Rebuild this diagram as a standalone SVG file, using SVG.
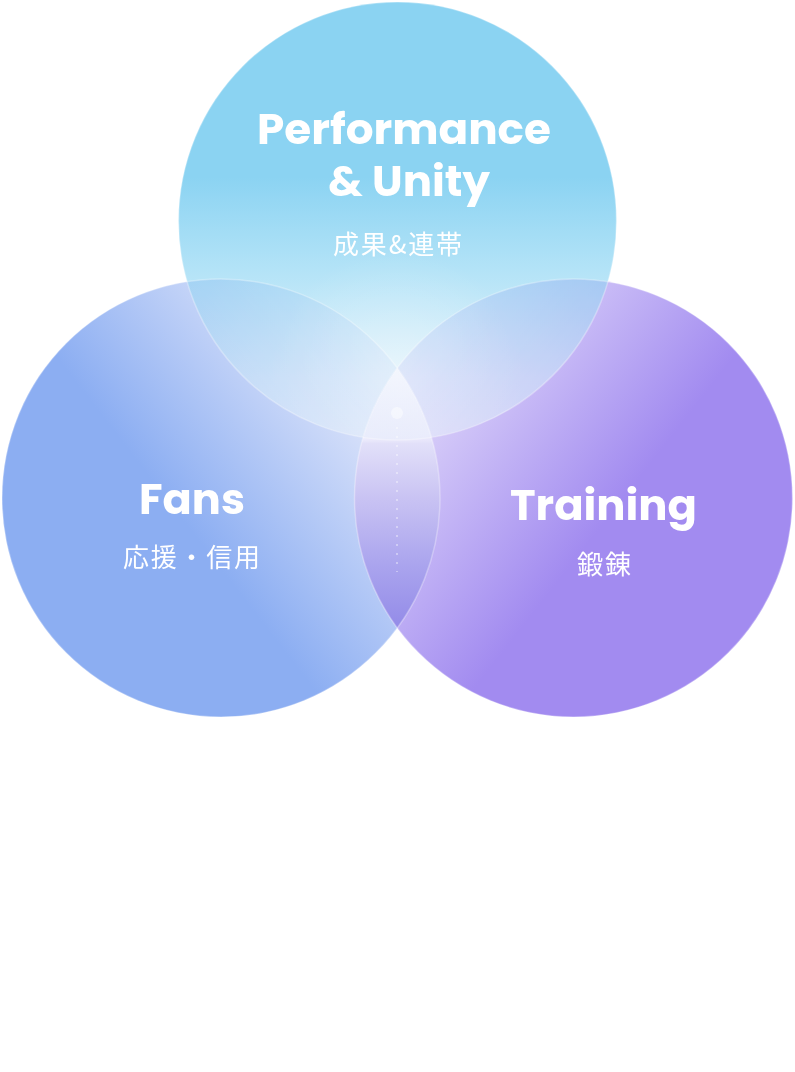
<svg xmlns="http://www.w3.org/2000/svg" width="795" height="1072" viewBox="0 0 795 1072">
  <defs>
    <linearGradient id="gLeft" gradientUnits="userSpaceOnUse" x1="48" y1="632" x2="394" y2="364">
      <stop offset="0" stop-color="#8CAEF2"/>
      <stop offset="0.40" stop-color="#8CAEF2"/>
      <stop offset="1" stop-color="#EEF0FC"/>
    </linearGradient>
    <linearGradient id="gRight" gradientUnits="userSpaceOnUse" x1="746" y1="633" x2="401" y2="363">
      <stop offset="0" stop-color="#A28BF0"/>
      <stop offset="0.41" stop-color="#A28BF0"/>
      <stop offset="1" stop-color="#E6E0FB"/>
    </linearGradient>
    <linearGradient id="gTop" gradientUnits="userSpaceOnUse" x1="0" y1="2" x2="0" y2="440">
      <stop offset="0" stop-color="#8BD3F2"/>
      <stop offset="0.40" stop-color="#8BD3F2"/>
      <stop offset="0.61" stop-color="#B3E3F7"/>
      <stop offset="0.75" stop-color="#CDEBF9"/>
      <stop offset="0.86" stop-color="#E0F1FB"/>
      <stop offset="1" stop-color="#F0F7FD"/>
    </linearGradient>
    <radialGradient id="gGlow" gradientUnits="userSpaceOnUse" cx="397" cy="380" r="130">
      <stop offset="0" stop-color="#FFFFFF" stop-opacity="0.35"/>
      <stop offset="1" stop-color="#FFFFFF" stop-opacity="0"/>
    </radialGradient>
    <linearGradient id="gLens" gradientUnits="userSpaceOnUse" x1="0" y1="368" x2="0" y2="628">
      <stop offset="0" stop-color="#FFFFFF" stop-opacity="0.7"/>
      <stop offset="0.27" stop-color="#F2F4FD" stop-opacity="0.7"/>
      <stop offset="0.29" stop-color="#E2E0F9"/>
      <stop offset="0.5" stop-color="#C9C3F3"/>
      <stop offset="0.75" stop-color="#ABA5EE"/>
      <stop offset="1" stop-color="#938BE8"/>
    </linearGradient>
    <clipPath id="clipTop">
      <circle cx="397.5" cy="221" r="219"/>
    </clipPath>
    <style>
      .edge { fill: none; stroke: #FFFFFF; stroke-opacity: 0.3; stroke-width: 1.5; }
      .mult { mix-blend-mode: multiply; opacity: 0.45; }
      .title { font-family: Poppins, Inter, "Liberation Sans", sans-serif; font-weight: 700; font-size: 42px; fill: #FFFFFF; }
      .sub { font-family: "Noto Sans CJK JP", "Noto Sans", sans-serif; font-weight: 400; font-size: 26px; fill: #FFFFFF; }
    </style>
  </defs>
  <rect width="795" height="1072" fill="#FFFFFF"/>

  <g id="node-fans">
    <circle cx="221" cy="498" r="219" fill="url(#gLeft)"/>
  </g>
  <g id="node-training">
    <circle cx="573.5" cy="498" r="219" fill="url(#gRight)"/>
  </g>
  <g id="node-performance">
    <circle cx="397.5" cy="221" r="219" fill="url(#gTop)"/>
    <circle cx="397" cy="380" r="130" fill="url(#gGlow)" clip-path="url(#clipTop)"/>
  </g>
  <circle class="mult" cx="221" cy="498" r="219" fill="url(#gLeft)" clip-path="url(#clipTop)"/>
  <circle class="mult" cx="573.5" cy="498" r="219" fill="url(#gRight)" clip-path="url(#clipTop)"/>
  <g id="lens">
    <path d="M397.25,368 A219,219 0 0 1 397.25,628 A219,219 0 0 1 397.25,368 Z" fill="url(#gLens)"/>
  </g>
  <g id="edges">
    <circle class="edge" cx="221" cy="498" r="219"/>
    <circle class="edge" cx="573.5" cy="498" r="219" stroke-opacity="0.45"/>
    <circle class="edge" cx="397.5" cy="221" r="219" stroke-opacity="0.5"/>
  </g>
  <g id="connectors">
    <circle cx="397" cy="413" r="6" fill="#FFFFFF" fill-opacity="0.45"/>
    <line x1="397" y1="427" x2="397" y2="572" stroke="#FFFFFF" stroke-opacity="0.5" stroke-width="1.5" stroke-dasharray="2 7"/>
  </g>
  <g id="labels">
    <text class="title" x="257" y="144" textLength="294" lengthAdjust="spacingAndGlyphs">Performance</text>
    <text class="title" x="328" y="196" textLength="162" lengthAdjust="spacingAndGlyphs">&amp; Unity</text>
    <text class="sub" x="333" y="254" textLength="129">成果&amp;連帯</text>
    <text class="title" x="139" y="514" textLength="106" lengthAdjust="spacingAndGlyphs">Fans</text>
    <text class="sub" x="123" y="567" textLength="137">応援・信用</text>
    <text class="title" x="510" y="520" textLength="187" lengthAdjust="spacingAndGlyphs">Training</text>
    <text class="sub" x="577" y="574" textLength="54">鍛錬</text>
  </g>
</svg>
